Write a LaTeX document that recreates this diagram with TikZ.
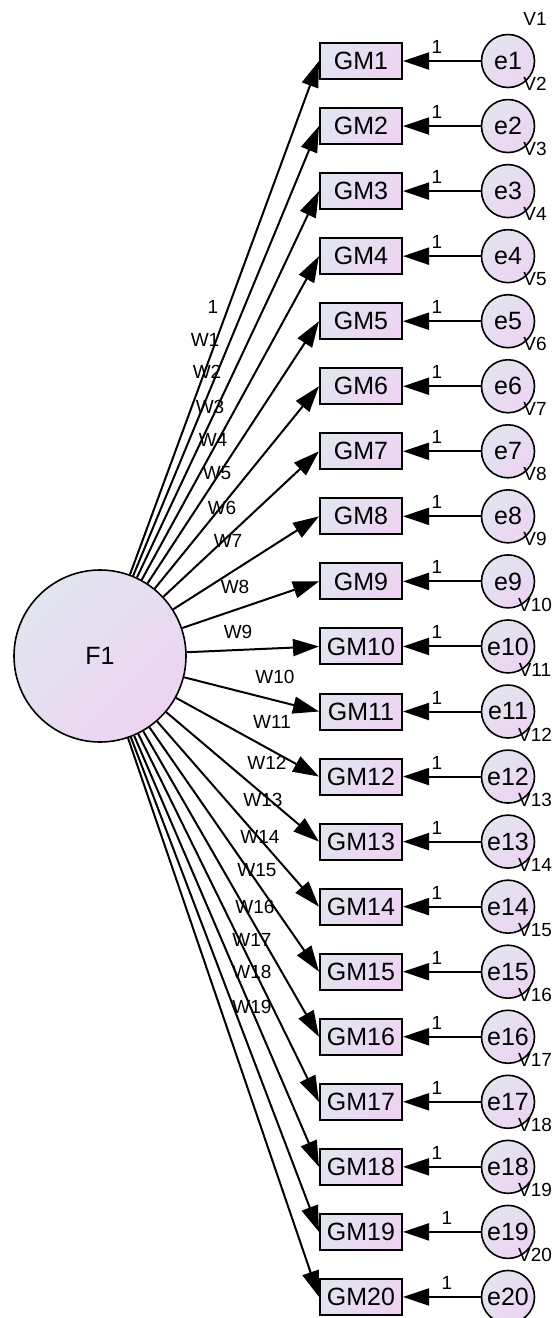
\documentclass[tikz,border=0pt]{standalone}
\usepackage{fontspec}
\setmainfont{Liberation Sans}
\usetikzlibrary{arrows.meta}
\definecolor{shadeA}{RGB}{226,229,240}
\definecolor{shadeB}{RGB}{237,212,241}
\begin{document}
\begin{tikzpicture}[x=0.5pt,y=-0.5pt,
		obs/.style={draw, line width=1pt, top color=shadeA, bottom color=shadeB, shading angle=45, minimum width=41pt, minimum height=18pt, inner sep=0pt, font=\fontsize{12.5}{14}\selectfont},
		err/.style={circle, draw, line width=0.8pt, top color=shadeA, bottom color=shadeB, shading angle=45, minimum size=26.5pt, inner sep=0pt, font=\fontsize{12.5}{14}\selectfont},
		load/.style={-{Triangle[length=13pt,width=8.5pt]}, line width=1pt},
		lbl/.style={inner sep=0pt, font=\fontsize{9.5}{11}\selectfont}]
		
		\useasboundingbox (0,0) rectangle (556,1318);
		
		% Factor
		\node[err, minimum size=86pt] (F1) at (100,656) {F1};
		
		% Indicators, errors and their paths
		\foreach \i [evaluate=\i as \y using 61+(\i-1)*65.05, evaluate=\i as \lx using {\i>18 ? 447 : 437}] in {1,...,20}
		{
			\node[obs] (gm\i) at (361,\y) {GM\i};
			\node[err] (e\i) at (508,\y) {e\i};
			\node[lbl] (v\i) at (535,\y-42) {V\i};
			\draw[load] (e\i) -- (gm\i);
			\node[lbl] (one\i) at (\lx,\y-14) {1};
			\draw[load] (F1) -- (gm\i.west);
		}
		
		% Path labels
		\node[lbl] (w0) at (213,307) {1};
		\node[lbl] (w1) at (205,340) {W1};
		\node[lbl] (w2) at (207,372) {W2};
		\node[lbl] (w3) at (210,407) {W3};
		\node[lbl] (w4) at (213,440) {W4};
		\node[lbl] (w5) at (217,473) {W5};
		\node[lbl] (w6) at (222,508) {W6};
		\node[lbl] (w7) at (228,541) {W7};
		\node[lbl] (w8) at (235,587) {W8};
		\node[lbl] (w9) at (238,632) {W9};
		\node[lbl] (w10) at (275,677) {W10};
		\node[lbl] (w11) at (272,722) {W11};
		\node[lbl] (w12) at (267,763) {W12};
		\node[lbl] (w13) at (263,800) {W13};
		\node[lbl] (w14) at (260,837) {W14};
		\node[lbl] (w15) at (257,870) {W15};
		\node[lbl] (w16) at (255,907) {W16};
		\node[lbl] (w17) at (252,940) {W17};
		\node[lbl] (w18) at (252,972) {W18};
		\node[lbl] (w19) at (252,1007) {W19};
		
	\end{tikzpicture}
\end{document}
